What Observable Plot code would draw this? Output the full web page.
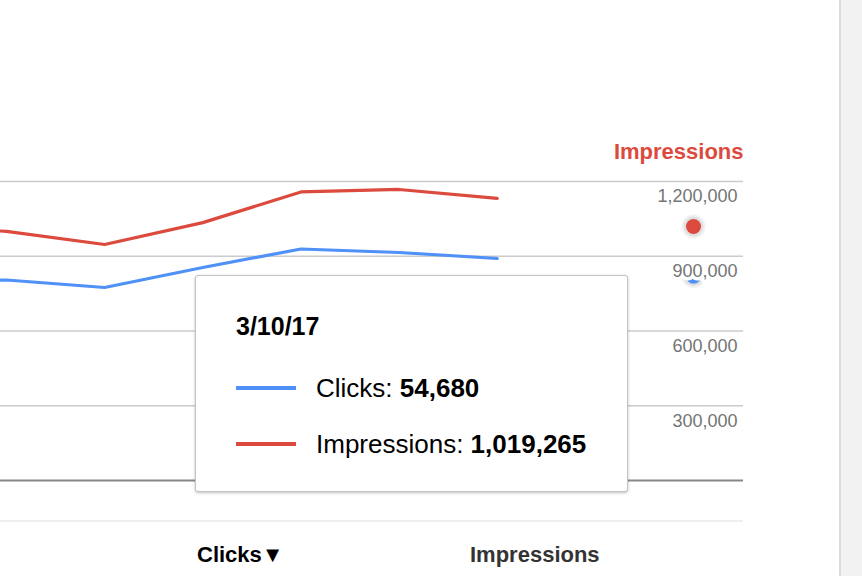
<!DOCTYPE html>
<html>
<head>
<meta charset="utf-8">
<script src="https://cdn.jsdelivr.net/npm/d3@7"></script>
<script src="https://cdn.jsdelivr.net/npm/@observablehq/plot@0.6"></script>
<style>
  html, body { margin: 0; padding: 0; background: #fff; }
  body { width: 862px; height: 576px; overflow: hidden; position: relative; font-family: "Liberation Sans", Arial, sans-serif; }
  #chart { position: absolute; left: 0; top: 0; }
  #strip { position: absolute; left: 839px; top: 0; width: 23px; height: 576px; background: #f2f2f2; border-left: 2px solid #dcdcdc; box-sizing: border-box; }
  #tabs { position: absolute; left: 0; top: 520px; width: 743px; height: 56px; border-top: 2px solid #eeeeee; }
  .tab { position: absolute; top: 20px; font-weight: bold; font-size: 22px; }
  #tooltip { position: absolute; left: 195px; top: 275px; width: 433px; height: 217px; box-sizing: border-box;
             background: #fff; border: 1px solid #c4c4c4; border-radius: 3px; box-shadow: 0 1px 3px rgba(0,0,0,0.25); }
  #tooltip .date { position: absolute; left: 40px; top: 36px; font-size: 25px; font-weight: bold; color: #000; }
  #tooltip .row { position: absolute; left: 40px; font-size: 26px; color: #000; white-space: nowrap; }
  #tooltip .sw { display: inline-block; width: 60px; height: 4px; vertical-align: middle; margin-right: 20px; position: relative; top: -2px; }
</style>
</head>
<body>
<div id="chart"></div>
<div id="strip"></div>
<div id="tabs"></div>
<div id="tooltip"></div>
<script>
// ---- data ----
const dates = ["2017-03-02", "2017-03-03", "2017-03-04", "2017-03-05", "2017-03-06", "2017-03-07", "2017-03-08"];
const impressions = [1020000, 1000000, 947000, 1035000, 1158000, 1168000, 1132000];
const clicks = [53000, 53650, 51640, 56990, 61940, 61000, 59400];
const hoverDate = "2017-03-10";
const hoverLabel = "3/10/17";
const hoverClicks = 54680;
const hoverImpressions = 1019265;
const impressionTicks = [300000, 600000, 900000, 1200000];
const clicksMax = 80000;
const impressionsMax = 1200000;
const seriesNames = ["Clicks", "Impressions"];
const axisTitle = "Impressions";

const RED = "#dc4a3d", BLUE = "#4f91f7";
const fmt = d3.format(",");
const parse = d3.utcParse("%Y-%m-%d");
const ratio = impressionsMax / clicksMax;

const rows = dates.map((d, i) => ({date: parse(d), impressions: impressions[i], clicks: clicks[i]}));
const hover = [{date: parse(hoverDate), impressions: hoverImpressions, clicks: hoverClicks}];

const plot = Plot.plot({
  width: 862,
  height: 576,
  marginLeft: 0,
  marginRight: 119,
  marginTop: 0,
  marginBottom: 96,
  style: {fontFamily: "'Liberation Sans', Arial, sans-serif", background: "transparent", overflow: "hidden"},
  x: {type: "utc", domain: [parse("2017-03-03"), parse(hoverDate)], range: [6, 693], axis: null},
  y: {domain: [0, impressionsMax], range: [480, 181], axis: null},
  marks: [
    Plot.ruleY(impressionTicks, {stroke: "#cccccc", strokeWidth: 1.5}),
    Plot.ruleY([0], {stroke: "#888888", strokeWidth: 2}),
    Plot.line(rows, {x: "date", y: "impressions", stroke: RED, strokeWidth: 3.2, clip: true}),
    Plot.line(rows, {x: "date", y: d => d.clicks * ratio, stroke: BLUE, strokeWidth: 3.2, clip: true}),
    // hover halos + dots
    Plot.dot(hover, {x: "date", y: "impressions", r: 12, fill: "#000", fillOpacity: 0.05}),
    Plot.dot(hover, {x: "date", y: "impressions", r: 10, fill: "#000", fillOpacity: 0.07}),
    Plot.dot(hover, {x: "date", y: "impressions", r: 7.5, fill: RED}),
    Plot.dot(hover, {x: "date", y: d => d.clicks * ratio, r: 12, fill: "#000", fillOpacity: 0.05}),
    Plot.dot(hover, {x: "date", y: d => d.clicks * ratio, r: 10, fill: "#000", fillOpacity: 0.07}),
    Plot.dot(hover, {x: "date", y: d => d.clicks * ratio, r: 7.5, fill: BLUE}),
    // right axis labels
    Plot.text(impressionTicks, {y: d => d, text: d => fmt(d), frameAnchor: "right", textAnchor: "end",
      dx: -6, dy: 15, fill: "#757575", fontSize: 18, stroke: "#fff", strokeWidth: 7}),
    Plot.text([axisTitle], {frameAnchor: "top-right", textAnchor: "end", lineAnchor: "middle", dy: 151, fill: RED,
      fontSize: 22, fontWeight: "bold"})
  ]
});
document.getElementById("chart").appendChild(plot);

// bottom tabs
const tabs = document.getElementById("tabs");
const t1 = document.createElement("div");
t1.className = "tab"; t1.style.left = "197px"; t1.style.color = "#000";
t1.textContent = seriesNames[0] + "\u25BC";
const t2 = document.createElement("div");
t2.className = "tab"; t2.style.left = "470px"; t2.style.color = "#333";
t2.textContent = seriesNames[1];
tabs.appendChild(t1); tabs.appendChild(t2);

// tooltip
const tip = document.getElementById("tooltip");
tip.innerHTML = `<div class="date">${hoverLabel}</div>
<div class="row" style="top:97px"><span class="sw" style="background:${BLUE}"></span>${seriesNames[0]}: <b>${fmt(hoverClicks)}</b></div>
<div class="row" style="top:153px"><span class="sw" style="background:${RED}"></span>${seriesNames[1]}: <b>${fmt(hoverImpressions)}</b></div>`;
</script>
</body>
</html>
